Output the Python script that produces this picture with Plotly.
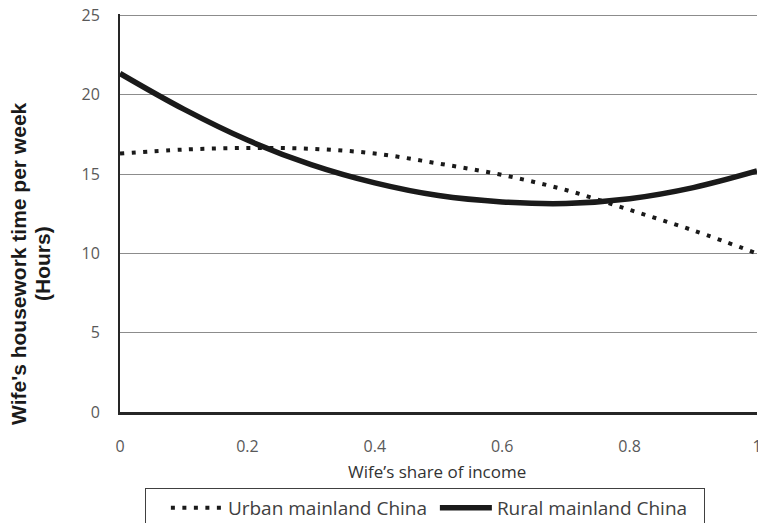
import plotly.graph_objects as go

share = [0.0, 0.1, 0.2, 0.3, 0.4, 0.5, 0.6, 0.7, 0.8, 0.9, 1.0]
urban = [16.3, 16.55, 16.65, 16.6, 16.3, 15.67, 14.95, 14.0, 12.75, 11.45, 10.0]
rural = [21.35, 19.1, 17.15, 15.6, 14.45, 13.65, 13.25, 13.15, 13.45, 14.15, 15.2]
x_ticks = [0, 0.2, 0.4, 0.6, 0.8, 1]
x_tick_text = ["0", "0.2", "0.4", "0.6", "0.8", "1"]
y_ticks = [0, 5, 10, 15, 20, 25]

W, H = 758, 523
L, R, T, B = 120, 1, 14, 111
PW, PH = W - L - R, H - T - B


def px_x(px):
    return (px - L) / PW


def px_y(py):
    return (H - B - py) / PH


fig = go.Figure()
fig.add_trace(go.Scatter(
    x=share, y=urban, mode="lines", name="Urban mainland China",
    line=dict(color="#1a1a1a", width=4, dash="4px,7.5px", shape="spline", smoothing=1.0),
))
fig.add_trace(go.Scatter(
    x=share, y=rural, mode="lines", name="Rural mainland China",
    line=dict(color="#1a1a1a", width=5.5, shape="spline", smoothing=1.0),
))

tick_font = dict(family="Open Sans, Liberation Sans, sans-serif", size=16, color="#595959")
ytitle_font = dict(family="Liberation Sans, Arial, sans-serif", size=21, color="#1a1a1a")

fig.update_layout(
    width=W, height=H,
    margin=dict(l=L, r=R, t=T, b=B, autoexpand=False),
    paper_bgcolor="white", plot_bgcolor="white",
    showlegend=True,
    legend=dict(
        orientation="h", x=px_x(425), xanchor="center", y=px_y(488), yanchor="top",
        bordercolor="#404040", borderwidth=1,
        font=dict(family="Open Sans, Liberation Sans, sans-serif", size=19, color="#404040"),
        title=dict(text="\u00a0\u00a0", font=dict(size=19)),
        itemwidth=52, entrywidth=202,
    ),
    xaxis=dict(
        range=[0, 1], tickvals=x_ticks, ticktext=x_tick_text,
        showgrid=False, zeroline=False, automargin=False,
        showline=True, linecolor="#262626", linewidth=2.5,
        ticks="", tickfont=tick_font, ticklabelstandoff=18,
        ticklabeloverflow="allow",
    ),
    yaxis=dict(
        range=[0, 25.1], tickvals=y_ticks,
        showgrid=True, gridcolor="#8c8c8c", gridwidth=1,
        zeroline=False, automargin=False,
        showline=True, linecolor="#262626", linewidth=2,
        ticks="", tickfont=tick_font, ticklabelstandoff=15,
        ticklabeloverflow="allow",
    ),
    annotations=[
        dict(text="<b>Wife's housework time per week</b>", textangle=-90,
             xref="paper", yref="paper", x=px_x(18), y=px_y(264),
             xanchor="center", yanchor="middle", showarrow=False, font=ytitle_font),
        dict(text="<b>(Hours)</b>", textangle=-90,
             xref="paper", yref="paper", x=px_x(42), y=px_y(264),
             xanchor="center", yanchor="middle", showarrow=False, font=ytitle_font),
        dict(text="Wife\u2019s share of income",
             xref="paper", yref="paper", x=px_x(437), y=px_y(471),
             xanchor="center", yanchor="middle", showarrow=False,
             font=dict(family="Open Sans, Liberation Sans, sans-serif", size=17, color="#333333")),
    ],
)

fig.write_html(
    "out.html",
    config={"displayModeBar": False},
    post_script=(
        "document.body.style.margin='0';"
        "document.body.style.overflow='hidden';"
        "document.documentElement.style.overflow='hidden';"
    ),
)
